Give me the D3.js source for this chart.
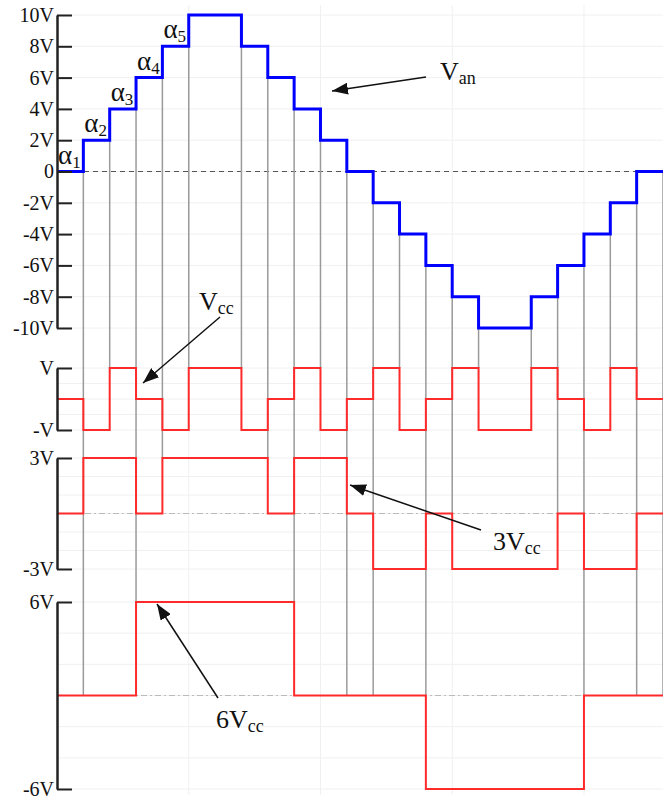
<!DOCTYPE html>
<html>
<head>
<meta charset="utf-8">
<script src="https://cdn.jsdelivr.net/npm/d3@7"></script>
<style>
  body { margin: 0; background: #fff; }
</style>
</head>
<body>
<script>
// level held during each unit interval (23 intervals)
var vanLevels  = [0, 2, 4, 6, 8, 10, 10, 8, 6, 4, 2, 0, -2, -4, -6, -8, -10, -10, -8, -6, -4, -2, 0];
var vccLevels  = [0, -1, 1, 0, -1, 1, 1, -1, 0, 1, -1, 0, 1, -1, 0, 1, -1, -1, 1, 0, -1, 1, 0];
var v3ccLevels = [0, 3, 3, 0, 3, 3, 3, 3, 0, 3, 3, 0, -3, -3, 0, -3, -3, -3, -3, 0, -3, -3, 0];
var v6ccLevels = [0, 0, 0, 6, 6, 6, 6, 6, 6, 0, 0, 0, 0, 0, -6, -6, -6, -6, -6, -6, 0, 0, 0];

var vanTicks = [10, 8, 6, 4, 2, 0, -2, -4, -6, -8, -10];
var vanTickLabels = ["10V", "8V", "6V", "4V", "2V", "0", "-2V", "-4V", "-6V", "-8V", "-10V"];
var vccTicks = [1, -1], vccTickLabels = ["V", "-V"];
var v3ccTicks = [3, -3], v3ccTickLabels = ["3V", "-3V"];
var v6ccTicks = [6, -6], v6ccTickLabels = ["6V", "-6V"];
var alphaLabels = ["1", "2", "3", "4", "5"];

var SERIF = "'Liberation Serif', 'Times New Roman', serif";
var W = 663, H = 800;
var svg = d3.select("body").append("svg")
    .attr("width", W)
    .attr("height", H);

var n = vanLevels.length;
var x = d3.scaleLinear().domain([0, n]).range([57, 663]);

var panels = [
  {levels: vanLevels,  y: d3.scaleLinear().domain([-10, 10]).range([328, 15]),
   ticks: vanTicks, labels: vanTickLabels, grid: 2, color: "#0000ff", width: 3},
  {levels: vccLevels,  y: d3.scaleLinear().domain([-1, 1]).range([430, 368]),
   ticks: vccTicks, labels: vccTickLabels, grid: 0.5, color: "#ff2a2a", width: 2},
  {levels: v3ccLevels, y: d3.scaleLinear().domain([-3, 3]).range([569, 458]),
   ticks: v3ccTicks, labels: v3ccTickLabels, grid: 1, color: "#ff2a2a", width: 2},
  {levels: v6ccLevels, y: d3.scaleLinear().domain([-6, 6]).range([789, 602]),
   ticks: v6ccTicks, labels: v6ccTickLabels, grid: 2, color: "#ff2a2a", width: 2}
];

// faint background grid
var gridG = svg.append("g").attr("stroke", "#f0f0f0").attr("stroke-width", 1);
[5, 10, 15, 20].forEach(function(t) {
  gridG.append("line").attr("x1", x(t)).attr("x2", x(t)).attr("y1", 5).attr("y2", 795);
});
panels.forEach(function(p) {
  var d = p.y.domain();
  d3.range(d[0], d[1] + 1e-9, p.grid).forEach(function(v) {
    gridG.append("line").attr("x1", x(0)).attr("x2", x(n)).attr("y1", p.y(v)).attr("y2", p.y(v));
  });
});

// zero reference lines
svg.append("line")
    .attr("x1", x(0)).attr("x2", x(n))
    .attr("y1", panels[0].y(0)).attr("y2", panels[0].y(0))
    .attr("stroke", "#555").attr("stroke-width", 1.2)
    .attr("stroke-dasharray", "5,4");
panels.slice(2).forEach(function(p) {
  svg.append("line")
      .attr("x1", x(0)).attr("x2", x(n))
      .attr("y1", p.y(0)).attr("y2", p.y(0))
      .attr("stroke", "#bbbbbb").attr("stroke-width", 1)
      .attr("stroke-dasharray", "6,3,2,3");
});

// gray guide lines through the switching instants
function lvl(arr, i) { return arr[Math.min(i, n - 1)]; }
var guides = [];
for (var t = 1; t <= n; t++) {
  var pv = panels.map(function(p) { return lvl(p.levels, t - 1); });
  var nv = panels.map(function(p) { return lvl(p.levels, t); });
  var changed = panels.map(function(p, k) { return pv[k] !== nv[k]; });
  if (t < n && !changed.some(Boolean)) continue;
  var y1 = panels[0].y(Math.min(pv[0], nv[0]));
  var y2;
  if (pv[0] === 0 || nv[0] === 0) {
    y2 = panels[3].y(0);
  } else {
    var k = changed.lastIndexOf(true);
    y2 = panels[k].y(Math.max(pv[k], nv[k]));
  }
  guides.push({t: t, y1: y1, y2: y2});
}
svg.append("g").selectAll("line")
  .data(guides)
  .enter()
  .append("line")
    .attr("x1", function(d) { return x(d.t); })
    .attr("x2", function(d) { return x(d.t); })
    .attr("y1", function(d) { return d.y1; })
    .attr("y2", function(d) { return d.y2; })
    .attr("stroke", "#9a9a9a")
    .attr("stroke-width", 1.5);

// waveforms
panels.forEach(function(p) {
  var pts = d3.range(n + 1).map(function(i) { return [i, lvl(p.levels, i)]; });
  var line = d3.line()
      .x(function(d) { return x(d[0]); })
      .y(function(d) { return p.y(d[1]); })
      .curve(d3.curveStepAfter);
  svg.append("path")
      .datum(pts)
      .attr("d", line)
      .attr("fill", "none")
      .attr("stroke", p.color)
      .attr("stroke-width", p.width);
});

// axes
panels.forEach(function(p) {
  var axis = d3.axisLeft(p.y)
      .tickValues(p.ticks)
      .tickFormat(function(d, i) { return p.labels[i]; })
      .tickSizeInner(-15)
      .tickSizeOuter(0)
      .tickPadding(3);
  var g = svg.append("g")
      .attr("transform", "translate(" + x(0) + ",0)")
      .call(axis)
      .attr("font-family", null)
      .attr("font-size", null);
  g.select(".domain").attr("stroke", "#222").attr("stroke-width", 2.5);
  g.selectAll(".tick line").attr("stroke", "#222").attr("stroke-width", 2);
  g.selectAll(".tick text")
      .style("font-family", SERIF)
      .style("font-size", "20px")
      .attr("fill", "#111");
});

// alpha labels
alphaLabels.forEach(function(s, i) {
  var t = svg.append("text")
      .attr("x", x(i) + 1)
      .attr("y", panels[0].y(vanLevels[i]) - 8)
      .style("font-family", SERIF)
      .style("font-size", "27px")
      .attr("fill", "#111");
  t.append("tspan").text("\u03b1");
  t.append("tspan").style("font-size", "17px").attr("dy", 4).text(s);
});

// annotations
svg.append("defs").append("marker")
    .attr("id", "arrow")
    .attr("markerUnits", "userSpaceOnUse")
    .attr("viewBox", "0 0 16 12")
    .attr("refX", 16).attr("refY", 6)
    .attr("markerWidth", 16).attr("markerHeight", 12)
    .attr("orient", "auto")
  .append("path")
    .attr("d", "M0,0L16,6L0,12Z")
    .attr("fill", "#111");

var notes = [
  {main: "V",  sub: "an", tx: 440, ty: 80,  x1: 426, y1: 77,  x2: 332, y2: 91},
  {main: "V",  sub: "cc", tx: 199, ty: 310, x1: 220, y1: 317, x2: 143, y2: 383},
  {main: "3V", sub: "cc", tx: 493, ty: 550, x1: 481, y1: 530, x2: 350, y2: 485},
  {main: "6V", sub: "cc", tx: 216, ty: 728, x1: 218, y1: 698, x2: 157, y2: 604}
];
notes.forEach(function(d) {
  svg.append("line")
      .attr("x1", d.x1).attr("y1", d.y1)
      .attr("x2", d.x2).attr("y2", d.y2)
      .attr("stroke", "#111").attr("stroke-width", 1.5)
      .attr("marker-end", "url(#arrow)");
  var t = svg.append("text")
      .attr("x", d.tx).attr("y", d.ty)
      .style("font-family", SERIF)
      .style("font-size", "26px")
      .attr("fill", "#111");
  t.append("tspan").text(d.main);
  t.append("tspan").style("font-size", "18px").attr("dy", 4).text(d.sub);
});
</script>
</body>
</html>
